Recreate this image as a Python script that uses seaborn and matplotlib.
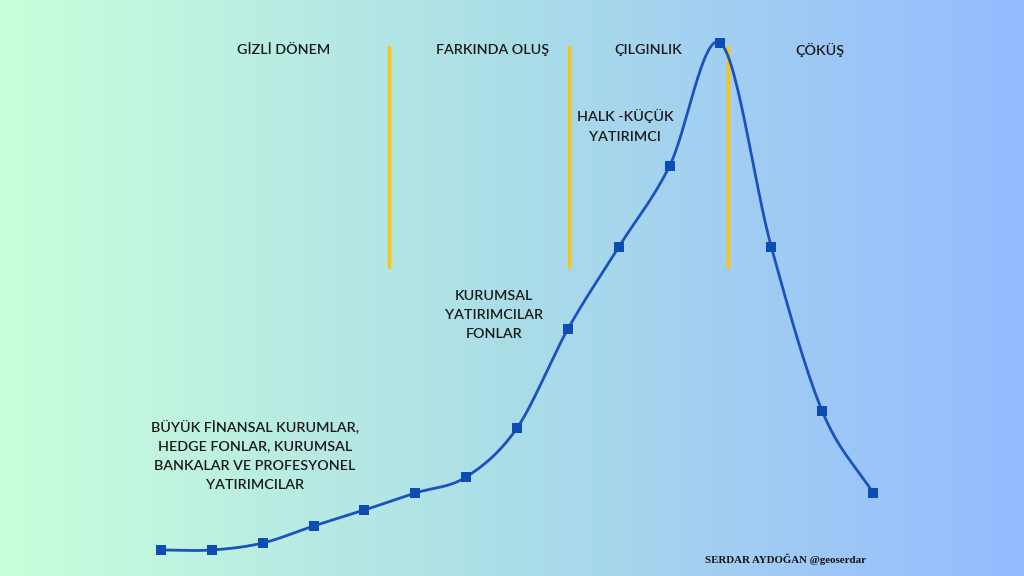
import numpy as np
import matplotlib
matplotlib.use("Agg")
import matplotlib.pyplot as plt
import seaborn as sns
from matplotlib.colors import LinearSegmentedColormap

# ---- data ----
steps = list(range(15))
values = [26, 26, 33, 50, 66, 83, 99, 148, 247, 329, 410, 533, 329, 165, 83]
phase_labels = ["GİZLİ DÖNEM", "FARKINDA OLUŞ", "ÇILGINLIK", "ÇÖKÜŞ"]
phase_x = [2.42, 6.51, 9.58, 12.96]
divider_x = [4.48, 8.02, 11.14]
group_labels = [
    "BÜYÜK FİNANSAL KURUMLAR,\nHEDGE FONLAR, KURUMSAL\nBANKALAR VE PROFESYONEL\nYATIRIMCILAR",
    "KURUMSAL\nYATIRIMCILAR\nFONLAR",
    "HALK -KÜÇÜK\nYATIRIMCI",
]
group_x = [1.85, 6.55, 9.12]
group_y = [121, 261, 450]
credit = "SERDAR AYDOĞAN @geoserdar"

sns.set_theme(style="white")
plt.rcParams['font.family'] = ['Lato', 'DejaVu Sans']

fig = plt.figure(figsize=(10.24, 5.76), dpi=100)
ax = fig.add_axes([0, 0, 1, 1])
x0, x1 = -161 / 50.86, (1024 - 161) / 50.86
ax.set_xlim(x0, x1)
ax.set_ylim(0, 576)
ax.axis("off")

# background gradient
cmap = LinearSegmentedColormap.from_list("bg", ["#CAFFDB", "#ABDDE8", "#95BBFF"])
grad = np.linspace(0, 1, 256).reshape(1, -1)
ax.imshow(grad, extent=[x0, x1, 0, 576], aspect="auto", cmap=cmap, zorder=0)

# smooth (Catmull-Rom) path through the points
xs = np.array(steps, float)
ys = np.array(values, float)
px = np.concatenate([[2 * xs[0] - xs[1]], xs, [2 * xs[-1] - xs[-2]]])
py = np.concatenate([[2 * ys[0] - ys[1]], ys, [2 * ys[-1] - ys[-2]]])
sx, sy = [], []
t = np.linspace(0, 1, 30)
for i in range(1, len(px) - 2):
    for arr, out in ((px, sx), (py, sy)):
        p0, p1, p2, p3 = arr[i - 1], arr[i], arr[i + 1], arr[i + 2]
        out.extend(0.5 * ((2 * p1) + (-p0 + p2) * t + (2 * p0 - 5 * p1 + 4 * p2 - p3) * t ** 2
                          + (-p0 + 3 * p1 - 3 * p2 + p3) * t ** 3))
sns.lineplot(x=sx, y=sy, ax=ax, color="#1A52BE", linewidth=2, sort=False, zorder=3)
sns.scatterplot(x=steps, y=values, ax=ax, marker="s", s=45, color="#0B4DB3",
                edgecolor="#0B4DB3", linewidth=0, zorder=4)

# phase dividers
for dx in divider_x:
    ax.plot([dx, dx], [309, 529], color="#FFC20E", linewidth=2.5, zorder=2)

# text
tkw = dict(fontsize=10.3, color="#1A1A1A", fontweight="semibold", zorder=5)
for lbl, xx in zip(phase_labels, phase_x):
    ax.text(xx, 526, lbl, ha="center", va="center", **tkw)
for lbl, xx, yy in zip(group_labels, group_x, group_y):
    ax.text(xx, yy, lbl, ha="center", va="center", linespacing=1.72, **tkw)
ax.text(12.27, 17, credit, ha="center", va="center", fontsize=7.8, fontweight="bold",
        family=["Liberation Serif", "DejaVu Serif"], color="#111111", zorder=5)

fig.savefig("out.png", dpi=100)
